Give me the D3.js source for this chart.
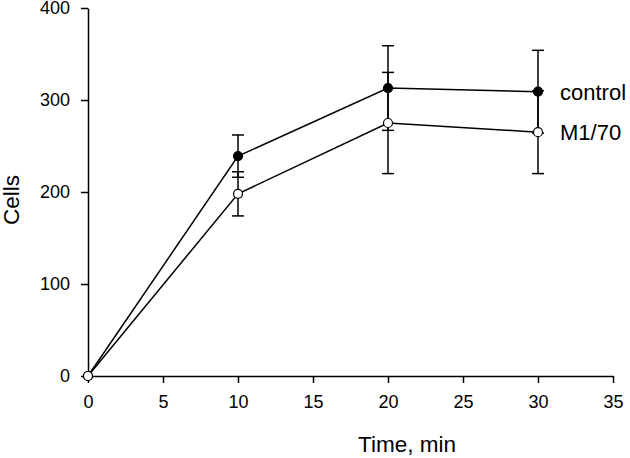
<!DOCTYPE html>
<html><head><meta charset="utf-8">
<script src="https://cdn.jsdelivr.net/npm/d3@7"></script>
<style>body{margin:0;background:#fff}svg{display:block}text{font-family:"Liberation Sans",Arial,sans-serif;fill:#000}</style>
</head><body>
<script>
const times = [0, 10, 20, 30];
const controlValues = [0, 239, 313, 309];
const controlErrors = [0, 23, 46, 45];
const m170Values = [0, 198, 275, 265];
const m170Errors = [0, 24, 55, 45];
const seriesNames = ["control", "M1/70"];
const xTicks = [0, 5, 10, 15, 20, 25, 30, 35];
const yTicks = [0, 100, 200, 300, 400];

const W = 630, H = 458;
const svg = d3.select("body").append("svg").attr("width", W).attr("height", H);
const x = d3.scaleLinear().domain([0, 35]).range([88, 613]);
const y = d3.scaleLinear().domain([0, 400]).range([376, 8]);

const xAxis = svg.append("g").attr("transform", "translate(0,376)")
  .call(d3.axisBottom(x).tickValues(xTicks).tickSize(7).tickSizeOuter(0).tickPadding(12));
const yAxis = svg.append("g").attr("transform", "translate(88,0)")
  .call(d3.axisLeft(y).tickValues(yTicks).tickSize(7).tickSizeOuter(0).tickPadding(11));
[xAxis, yAxis].forEach(g => {
  g.attr("font-size", 18).attr("font-family", '"Liberation Sans",Arial,sans-serif');
  g.select(".domain").attr("stroke", "#000").attr("stroke-width", 1.5);
  g.selectAll(".tick line").attr("stroke", "#000").attr("stroke-width", 1.5);
  g.selectAll(".tick text").attr("fill", "#000");
});

svg.append("text").attr("x", 407).attr("y", 452).attr("text-anchor", "middle").attr("font-size", 22.5).text("Time, min");
svg.append("text").attr("transform", "translate(19,200) rotate(-90)").attr("text-anchor", "middle").attr("font-size", 22.5).text("Cells");

const series = [
  {name: seriesNames[0], vals: controlValues, errs: controlErrors, fill: "#000"},
  {name: seriesNames[1], vals: m170Values, errs: m170Errors, fill: "#fff"}
];
const line = d3.line().x((d, i) => x(times[i])).y(d => y(d));

series.forEach(s => {
  const g = svg.append("g");
  times.forEach((t, i) => {
    if (!s.errs[i]) return;
    const cx = x(t), y1 = y(s.vals[i] + s.errs[i]), y0 = y(s.vals[i] - s.errs[i]);
    g.append("line").attr("x1", cx).attr("x2", cx).attr("y1", y1).attr("y2", y0).attr("stroke", "#000").attr("stroke-width", 1.5);
    [y1, y0].forEach(yy => g.append("line").attr("x1", cx - 6).attr("x2", cx + 6).attr("y1", yy).attr("y2", yy).attr("stroke", "#000").attr("stroke-width", 1.5));
  });
});
series.forEach(s => {
  svg.append("path").attr("d", line(s.vals)).attr("fill", "none").attr("stroke", "#000").attr("stroke-width", 1.5);
});
series.forEach(s => {
  svg.append("g").selectAll("circle").data(s.vals).join("circle")
    .attr("cx", (d, i) => x(times[i])).attr("cy", d => y(d)).attr("r", 4.5)
    .attr("fill", s.fill).attr("stroke", "#000").attr("stroke-width", 1.2);
  svg.append("text").attr("x", 560).attr("y", y(s.vals[3]) + 8).attr("font-size", 22).text(s.name);
});
</script>
</body></html>
